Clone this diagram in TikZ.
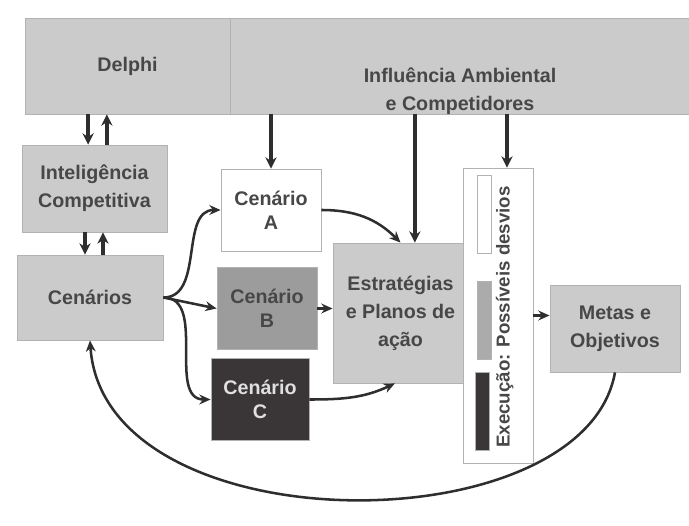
\documentclass[tikz,border=0pt]{standalone}
\usepackage{fontspec}
\setmainfont{Liberation Sans}
\usetikzlibrary{arrows.meta,positioning,calc}
\definecolor{boxgray}{HTML}{CBCBCB}
\definecolor{midgray}{HTML}{9C9C9C}
\definecolor{darkbox}{HTML}{3A3536}
\definecolor{inkgray}{HTML}{474747}
\definecolor{arrowink}{HTML}{2E2E2E}

\begin{document}
\begin{tikzpicture}[
  box/.style={draw=gray!60, line width=0.6pt, fill=boxgray, text=inkgray,
    font=\fontsize{14}{20}\selectfont\bfseries, align=center, inner sep=2pt},
  lbl/.style={text=inkgray, font=\fontsize{14}{20}\selectfont\bfseries, align=center},
  cenbox/.style={box, minimum width=2.5cm, minimum height=2.05cm,
    font=\fontsize{14}{17}\selectfont\bfseries},
  flow/.style={-{Stealth[length=8pt,width=8pt]}, line width=2.6pt, arrowink},
  link/.style={-{Stealth[length=8pt,width=7pt]}, line width=1.8pt, arrowink},
  bar/.style={draw=gray!60, line width=0.5pt, minimum width=0.35cm,
    minimum height=1.95cm, inner sep=0pt}
]
  \useasboundingbox (0,0) rectangle (17.225,13.125);

  % --- Top band ---
  \node[box, minimum width=5.125cm, minimum height=2.4cm] (delphi) at (3.1875,11.475) {Delphi};
  \node[box, minimum width=11.475cm, minimum height=2.4cm] (ambiente) at (11.4875,11.475) {};
  \node[lbl] (ambtxt) at (11.5,10.85) {Influência Ambiental\\e Competidores};

  % --- Left column ---
  \node[box, minimum width=3.625cm, minimum height=2.175cm] (intel) at (2.3625,8.4125) {Inteligência\\Competitiva};
  \node[box, minimum width=3.65cm, minimum height=2.125cm] (cenarios) at (2.25,5.6875) {Cenários};

  \coordinate (dA) at ([xshift=-1.6mm]intel.north);
  \coordinate (dB) at ([xshift=3.1mm]intel.north);
  \draw[flow] (dA |- delphi.south) -- (dA);
  \draw[flow] (dB) -- (dB |- delphi.south);
  \coordinate (cA) at ([xshift=-1.25mm]cenarios.north);
  \coordinate (cB) at ([xshift=3.25mm]cenarios.north);
  \draw[flow] (cA |- intel.south) -- (cA);
  \draw[flow] (cB) -- (cB |- intel.south);

  % --- Scenarios A, B, C ---
  \node[cenbox, fill=white] (cenA) at (6.775,7.875) {Cenário\\A};
  \node[cenbox, fill=midgray] (cenB) at (6.675,5.4125) {Cenário\\B};
  \node[cenbox, fill=darkbox, text=white!88!black, minimum width=2.45cm] (cenC) at (6.5,3.1375) {Cenário\\C};

  % --- Strategy, execution, goals ---
  \node[box, minimum width=3.375cm, minimum height=3.5cm] (estrategias) at (10.0125,5.3) {Estratégias\\e Planos de\\ação};
  \node[box, fill=white, minimum width=1.75cm, minimum height=7.375cm] (execucao) at (12.45,5.2375) {};
  \node[bar, fill=white] (barW) at (12.1,7.76) {};
  \node[bar, fill=midgray!85] (barG) at (12.1,5.125) {};
  \node[bar, fill=darkbox] (barD) at (12.05,2.85) {};
  \node[lbl, rotate=90, font=\fontsize{13.3}{16}\selectfont\bfseries] (exectxt) at (12.62,5.2) {Execução: Possíveis desvios};
  \node[box, minimum width=3.25cm, minimum height=2.175cm] (metas) at (15.375,4.9125) {Metas e\\Objetivos};

  % arrows from the environment band
  \draw[flow] (ambiente.south -| cenA.north) -- (cenA.north);
  \coordinate (eTop) at ([xshift=3.6mm]estrategias.north);
  \draw[flow] (eTop |- ambiente.south) -- (eTop);
  \coordinate (xTop) at ([xshift=2.25mm]execucao.north);
  \draw[flow] (xTop |- ambiente.south) -- (xTop);

  % fork to the scenarios
  \draw[link] (cenarios.east) to[out=0,in=180] (cenA.west);
  \draw[link] (cenarios.east) -- (cenB.west);
  \draw[link] (cenarios.east) to[out=0,in=180] (cenC.west);

  % scenarios into strategies
  \draw[link] (cenA.east) to[out=0,in=135] (estrategias.north);
  \draw[link] (cenB.east) -- (cenB.east -| estrategias.west);
  \coordinate (eBot) at ([xshift=-1.4mm]estrategias.south);
  \draw[link] (cenC.east) to[out=0,in=-155] (eBot);

  % execution to goals, feedback to scenarios
  \draw[link] (execucao.east) -- (execucao.east -| metas.west);
  \draw[link] (metas.south) .. controls (14.6,-0.55) and (2.6,-0.55) .. (cenarios.south);
\end{tikzpicture}
\end{document}
